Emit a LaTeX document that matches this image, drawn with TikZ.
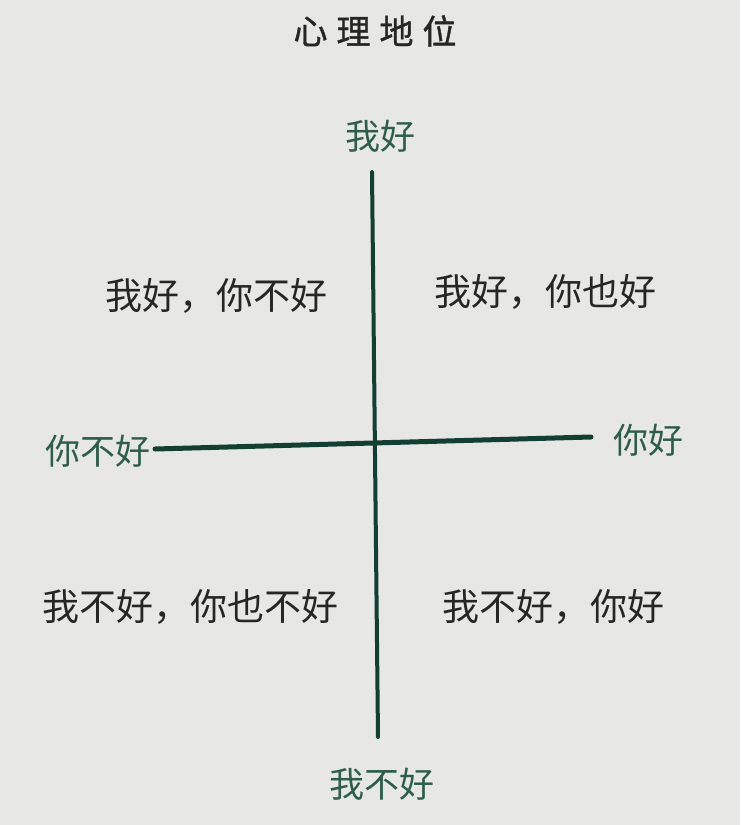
\documentclass[tikz,border=0pt]{standalone}
\usepackage{fontspec}
\newfontfamily\cjk{Noto Sans CJK SC}
\newfontfamily\cjkheavy[FakeBold=1.2]{Noto Sans CJK SC}
\definecolor{paper}{HTML}{E7E7E5}
\definecolor{axisgreen}{HTML}{123F32}
\definecolor{labelgreen}{HTML}{2E5E4A}
\definecolor{ink}{HTML}{262626}
\begin{document}
\begin{tikzpicture}[x=1pt,y=-1pt,
  axisline/.style={draw=axisgreen,line width=5pt,line cap=round},
  axislabel/.style={text=labelgreen,font=\cjk\fontsize{35}{35}\selectfont,inner sep=0pt},
  quadlabel/.style={text=ink,font=\cjk\fontsize{37}{37}\selectfont,inner sep=0pt},
  titlelabel/.style={text=ink,font=\cjkheavy\fontsize{34}{34}\selectfont,inner sep=0pt}]
\fill[paper] (0,0) rectangle (740,825);
\useasboundingbox (0,0) rectangle (740,825);
\node[titlelabel] (title) at (375,31) {心\hspace{9pt}理\hspace{9pt}地\hspace{9pt}位};
\node[axislabel] (top) at (380,136) {我好};
\node[axislabel] (bottom) at (382,784) {我不好};
\node[axislabel] (left) at (98,451) {你不好};
\node[axislabel] (right) at (648,440) {你好};
\coordinate (vtop) at (372,172);
\coordinate (vbot) at (378,737);
\coordinate (hleft) at (155,449);
\coordinate (hright) at (591,437);
\draw[axisline,line width=4pt] (vtop) -- (vbot);
\draw[axisline] (hleft) -- (hright);
\node[quadlabel] (q1) at (216,296) {我好，你不好};
\node[quadlabel] (q2) at (545,292) {我好，你也好};
\node[quadlabel] (q3) at (190,607) {我不好，你也不好};
\node[quadlabel] (q4) at (553,607) {我不好，你好};
\end{tikzpicture}
\end{document}
